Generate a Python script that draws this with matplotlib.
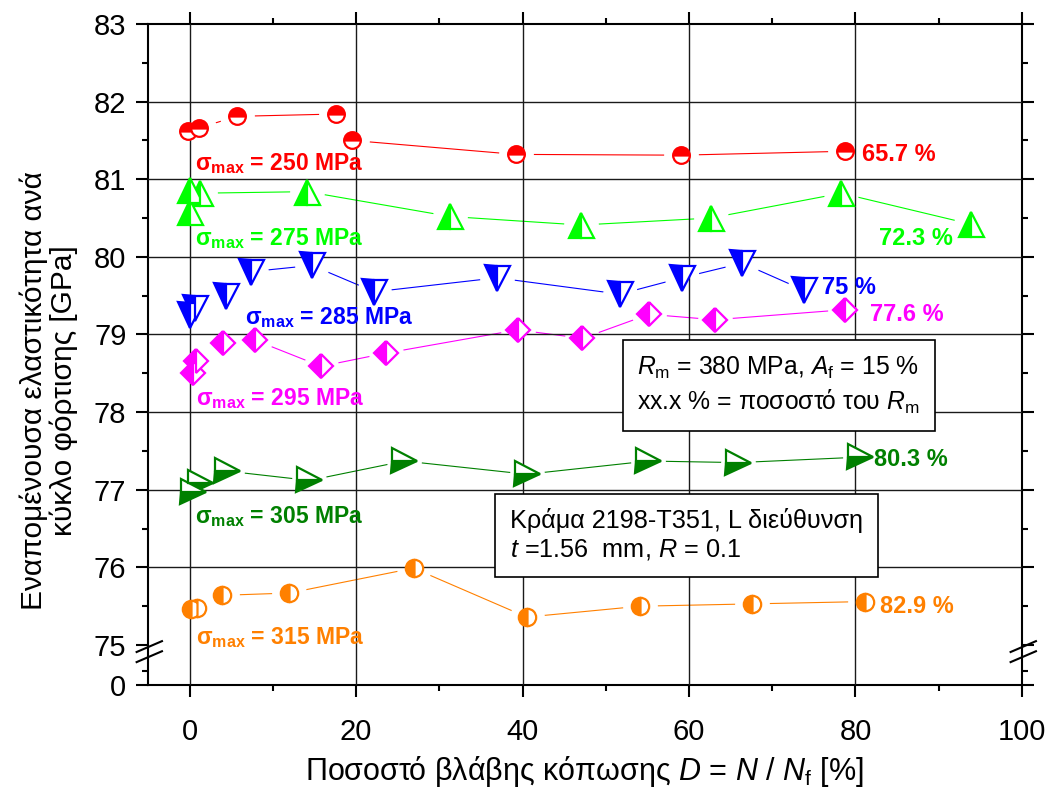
import numpy as np
import matplotlib
matplotlib.use("Agg")
import matplotlib.pyplot as plt
import matplotlib.transforms as mtransforms

plt.rcParams['font.family'] = ['Liberation Sans', 'DejaVu Sans']
plt.rcParams['mathtext.fontset'] = 'custom'
plt.rcParams['mathtext.rm'] = 'Liberation Sans'
plt.rcParams['mathtext.it'] = 'Liberation Sans:italic'
plt.rcParams['mathtext.bf'] = 'Liberation Sans:bold'

# --- data ---
s250_x = [-0.2, 1.1, 5.7, 17.6, 19.5, 39.2, 59.0, 78.7]
s250_y = [81.62, 81.66, 81.81, 81.84, 81.50, 81.32, 81.31, 81.36]

s275_x = [0.0, 0.0, 1.2, 14.1, 31.3, 47.0, 62.6, 78.3, 93.9]
s275_y = [80.58, 80.86, 80.82, 80.84, 80.52, 80.41, 80.50, 80.82, 80.42]

s285_x = [0.0, 0.6, 4.4, 7.4, 14.7, 22.2, 36.9, 51.7, 59.1, 66.4, 73.8]
s285_y = [79.25, 79.34, 79.49, 79.81, 79.89, 79.55, 79.73, 79.52, 79.73, 79.92, 79.57]

s295_x = [0.4, 0.8, 4.0, 7.8, 15.8, 23.6, 39.4, 47.2, 55.2, 63.1, 78.8]
s295_y = [78.50, 78.66, 78.89, 78.93, 78.59, 78.76, 79.06, 78.95, 79.26, 79.19, 79.32]

s305_x = [0.4, 1.2, 4.5, 14.4, 25.8, 40.5, 55.1, 65.9, 80.5]
s305_y = [76.97, 77.09, 77.24, 77.12, 77.37, 77.20, 77.37, 77.35, 77.42]

s315_x = [0.2, 0.9, 3.9, 12.0, 26.9, 40.5, 54.1, 67.6, 81.2]
s315_y = [75.46, 75.48, 75.64, 75.67, 75.99, 75.36, 75.50, 75.53, 75.56]

stress = ['250', '275', '285', '295', '305', '315']
pct = ['65.7 %', '72.3 %', '75 %', '77.6 %', '80.3 %', '82.9 %']

# where the labels sit (data coords)
stress_pos = [(0.6, 81.12), (0.6, 80.15), (6.6, 79.14), (0.8, 78.09), (0.6, 76.57), (0.8, 75.01)]
pct_pos = [(80.8, 81.23), (82.8, 80.15), (76.0, 79.52), (81.8, 79.17), (82.2, 77.30), (83.0, 75.41)]

xs = [s250_x, s275_x, s285_x, s295_x, s305_x, s315_x]
ys = [s250_y, s275_y, s285_y, s295_y, s305_y, s315_y]
colors = ['#FF0000', '#00FF00', '#0000FF', '#FF00FF', '#008000', '#FF8000']
markers = ['o', '^', 'v', 'D', '>', 'o']
fills = ['top', 'left', 'left', 'left', 'bottom', 'left']
msizes = [12, 18, 18, 12.5, 18, 12.5]

x_major = [0, 20, 40, 60, 80, 100]
x_minor = [10, 30, 50, 70, 90]
y_major = [75, 76, 77, 78, 79, 80, 81, 82, 83]
y_zero = 74.485   # where "0" sits below the axis break

fig = plt.figure(figsize=(10.54, 7.91), dpi=100)
ax = fig.add_axes([0.1404, 0.134, 0.8292, 0.8357])

for i in range(6):
    ax.plot(xs[i], ys[i], '-', color=colors[i], lw=0.8, zorder=2)
    # white halo so the connecting line stops short of the symbols
    ax.plot(xs[i], ys[i], 'o', ls='none', ms=24, color='white', mec='white', zorder=2.5)
for i in range(6):
    ax.plot(xs[i], ys[i], ls='none', marker=markers[i], ms=msizes[i],
            fillstyle=fills[i], color=colors[i], mfc=colors[i], mfcalt='white',
            mec=colors[i], mew=1.6, zorder=3)
    sx, sy = stress_pos[i]
    ax.text(sx, sy, r'$\mathbf{σ_{max}}$ = ' + stress[i] + ' MPa', color=colors[i],
            fontsize=16.5, fontweight='bold', ha='left', va='baseline', zorder=4)
    px, py = pct_pos[i]
    ax.text(px, py, pct[i], color=colors[i], fontsize=17, fontweight='bold',
            ha='left', va='baseline', zorder=4)

for gx in x_major[:-1]:
    ax.axvline(gx, color='#1a1a1a', lw=1.0, zorder=2.7)
for gy in y_major[1:-1]:
    ax.axhline(gy, color='#1a1a1a', lw=1.0, zorder=2.7)

ax.set_xlim(-5, 100)
ax.set_ylim(y_zero, 83)
ax.set_xticks(x_major)
ax.set_xticks(x_minor, minor=True)
ax.set_yticks([y_zero] + y_major, labels=['0'] + [str(v) for v in y_major])
ax.set_yticks([74.67] + [v + 0.5 for v in y_major[:-1]], minor=True)
ax.tick_params(which='both', direction='out', top=True, right=True, width=1.5, labelsize=21)
ax.tick_params(which='major', length=8.5)
ax.tick_params(which='minor', length=4)
ax.tick_params(axis='x', pad=15)
ax.tick_params(axis='y', pad=7)
for sp in ax.spines.values():
    sp.set_linewidth(1.5)

# axis break marks
tr = mtransforms.blended_transform_factory(ax.transAxes, ax.transData)
for xa in (0.0, 1.0):
    for yb in (74.98, 74.85):
        ax.plot([xa - 0.013, xa + 0.016], [yb - 0.07, yb + 0.07], color='black',
                lw=1.5, transform=tr, clip_on=False, zorder=6)

ax.set_xlabel(r'Ποσοστό βλάβης κόπωσης $D$ = $N$ / $N_\mathrm{f}$ [%]', fontsize=22, labelpad=6)
ax.set_ylabel('Εναπομένουσα ελαστικότητα ανά\nκύκλο φόρτισης [GPa]', fontsize=21.5,
              linespacing=1.05)
ax.yaxis.set_label_coords(-0.08, 0.445)

box = dict(boxstyle='square,pad=0.6', fc='white', ec='black', lw=1.2)
ax.text(53.8, 78.74, r'$R_\mathrm{m}$ = 380 MPa, $A_\mathrm{f}$ = 15 %' + '\n'
        + r'xx.x % = ποσοστό του $R_\mathrm{m}$', fontsize=17.8, ha='left', va='top',
        linespacing=1.3, bbox=box, zorder=5)
ax.text(38.5, 76.76, 'Κράμα 2198-T351, L διεύθυνση\n' + r'$t$ =1.56  mm, $R$ = 0.1',
        fontsize=18.2, ha='left', va='top', bbox=box, zorder=5)

fig.savefig('out.png', dpi=100)
